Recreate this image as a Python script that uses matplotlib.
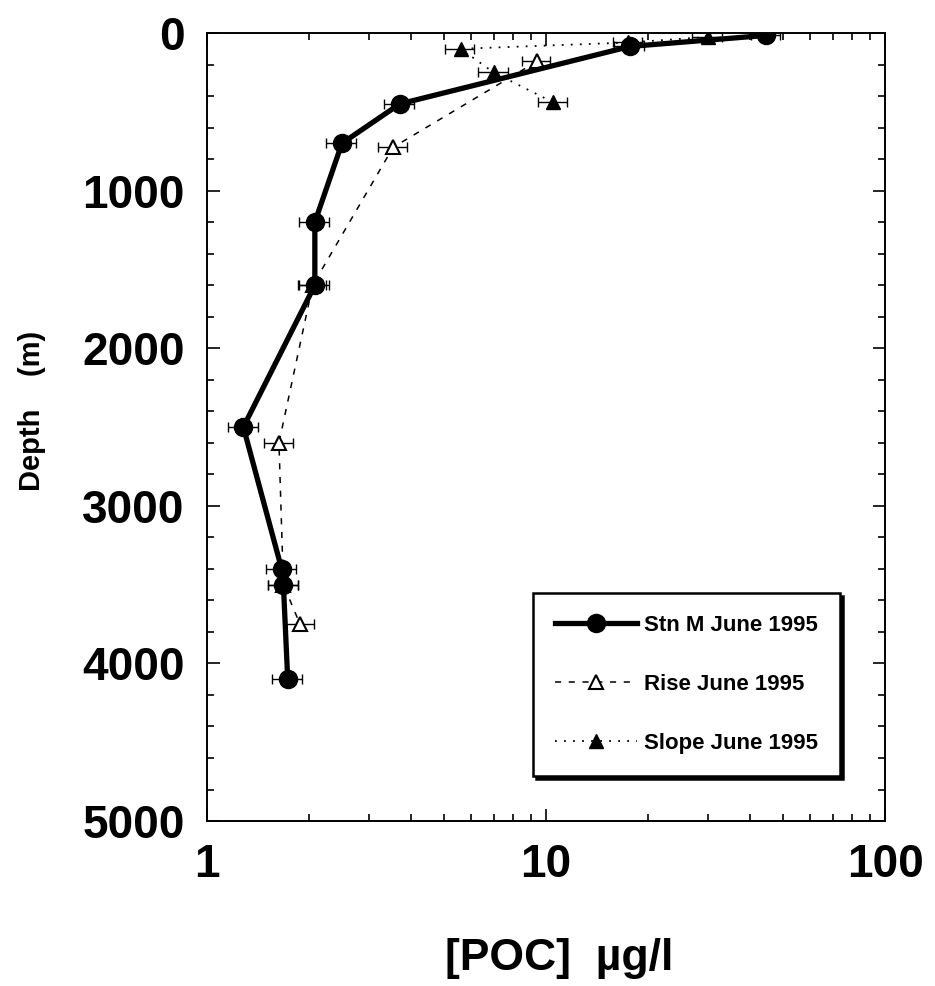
"""POC depth profiles at Stn M, Rise and Slope, June 1995."""

import matplotlib
import matplotlib.pyplot as plt

matplotlib.use('Agg')

plt.rcParams['font.family'] = ['Liberation Sans', 'DejaVu Sans']

# Stn M June 1995
stnm_depth = [15, 85, 450, 700, 1200, 1600, 2500, 3400, 3500, 4100]
stnm_poc = [44.5, 17.7, 3.7, 2.5, 2.08, 2.08, 1.28, 1.66, 1.68, 1.73]
stnm_err = [4.4, 1.8, 0.37, 0.25, 0.21, 0.21, 0.13, 0.17, 0.17, 0.17]

# Rise June 1995
rise_depth = [180, 725, 1600, 2600, 3500, 3750]
rise_poc = [9.4, 3.54, 2.05, 1.63, 1.68, 1.88]
rise_err = [0.9, 0.35, 0.2, 0.16, 0.17, 0.19]

# Slope June 1995
slope_depth = [25, 60, 100, 250, 440]
slope_poc = [30.0, 17.5, 5.6, 7.0, 10.5]
slope_err = [3.0, 1.7, 0.55, 0.7, 1.05]

x_ticks = [1, 10, 100]
x_tick_labels = ['1', '10', '100']
y_ticks = [0, 1000, 2000, 3000, 4000, 5000]

fig = plt.figure(figsize=(9.35, 9.86), dpi=100)
ax = fig.add_axes([0.2214, 0.1673, 0.7252, 0.7992])

eb_kw = dict(ecolor='black', elinewidth=1.0, capsize=3.5, capthick=1.0)

ax.errorbar(slope_poc, slope_depth, xerr=slope_err, fmt='none', zorder=2, **eb_kw)
ax.errorbar(rise_poc, rise_depth, xerr=rise_err, fmt='none', zorder=2, **eb_kw)
ax.errorbar(stnm_poc, stnm_depth, xerr=stnm_err, fmt='none', zorder=2, **eb_kw)

ax.plot(slope_poc, slope_depth, linestyle=(0, (1, 4)), linewidth=1.3, color='black',
        marker='^', markersize=10, markerfacecolor='black',
        label='Slope June 1995', zorder=3)
ax.plot(rise_poc, rise_depth, linestyle=(0, (4, 5)), linewidth=1.1, color='black',
        marker='^', markersize=10, markerfacecolor='white', markeredgewidth=1.5,
        label='Rise June 1995', zorder=3)
ax.plot(stnm_poc, stnm_depth, linestyle='-', linewidth=3.8, color='black',
        marker='o', markersize=13, markerfacecolor='black',
        label='Stn M June 1995', zorder=4)

ax.set_xscale('log')
ax.set_xlim(1, 100)
ax.set_ylim(5000, 0)
ax.set_xticks(x_ticks)
ax.set_xticklabels(x_tick_labels)
ax.set_yticks(y_ticks)
ax.set_yticks(range(0, 5001, 200), minor=True)

ax.tick_params(which='both', direction='in', top=True, right=True, width=1.2)
ax.tick_params(which='major', length=9)
ax.tick_params(which='minor', length=5)
ax.tick_params(axis='x', which='major', pad=16, labelsize=33)
ax.tick_params(axis='y', which='major', pad=16, labelsize=33)
for lab in ax.get_xticklabels() + ax.get_yticklabels():
    lab.set_fontweight('bold')

for sp in ax.spines.values():
    sp.set_linewidth(1.4)

ax.set_xlabel('[POC]  \u00b5g/l', fontsize=32, fontweight='bold')
ax.xaxis.set_label_coords(0.52, -0.148)
ax.set_ylabel('Depth    (m)', fontsize=21, fontweight='bold')
ax.yaxis.set_label_coords(-0.237, 0.52)

handles, labels = ax.get_legend_handles_labels()
order = [2, 1, 0]
leg = ax.legend([handles[i] for i in order], [labels[i] for i in order],
                loc='lower right', bbox_to_anchor=(0.95, 0.043),
                fontsize=16, handlelength=3.7, handletextpad=0.3,
                labelspacing=1.7, borderpad=1.0, fancybox=False,
                framealpha=1, edgecolor='black',
                shadow={'color': 'black', 'alpha': 1.0})
leg.get_frame().set_linewidth(1.8)
for t in leg.get_texts():
    t.set_fontweight('bold')

fig.savefig('out.png', dpi=100)
plt.close(fig)
